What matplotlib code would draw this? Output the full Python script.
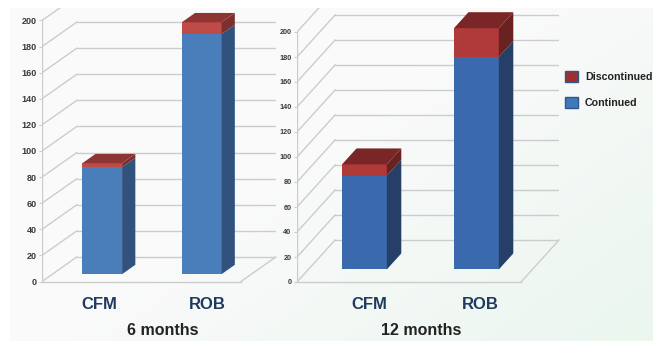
import numpy as np
import matplotlib.pyplot as plt
from matplotlib.patches import Polygon, Patch

categorias = ["CFM", "ROB"]
ticks = [0, 20, 40, 60, 80, 100, 120, 140, 160, 180, 200]

continued_6 = [82, 184]
discontinued_6 = [3, 9]
continued_12 = [75, 170]
discontinued_12 = [9, 23]

W, H = 653, 343
plt.rcParams['font.family'] = ['Liberation Sans', 'DejaVu Sans']

fig = plt.figure(figsize=(W / 100, H / 100), dpi=100, facecolor='white')

# Fondo claro con un tono verde hacia la esquina inferior derecha
fondo = fig.add_axes([10 / W, 2 / H, (W - 10) / W, (H - 10) / H])
xx, yy = np.meshgrid(np.linspace(0, 1, 200), np.linspace(1, 0, 120))
t = np.clip((xx * 0.75 + (1 - yy) * 0.55 - 0.55) / 0.7, 0, 1)[..., None]
fondo.imshow(np.array([0.982, 0.982, 0.982]) * (1 - t) + np.array([0.925, 0.965, 0.94]) * t,
             aspect='auto', interpolation='bilinear')
fondo.axis('off')


def panel(x0, y0, px_cat, px_val, dx, dy, cont, disc, col, fs_tick, pos_label, x_titulo, titulo):
    ancho = (2 + dx) * px_cat
    alto = y0 - 8
    ax = fig.add_axes([x0 / W, (H - y0) / H, ancho / W, alto / H])
    ax.patch.set_alpha(0)
    ax.set_xlim(-0.5, 1.5 + dx)
    ax.set_ylim(0, alto / px_val)
    for s in ax.spines.values():
        s.set_visible(False)

    # Paredes y piso del grafico en perspectiva
    gris = '#cbcdcd'
    for v in ticks:
        ax.plot([-0.5, -0.5 + dx], [v, v + dy], color=gris, lw=1.0, zorder=1)
        ax.plot([-0.5 + dx, 1.5 + dx], [v + dy, v + dy], color=gris, lw=1.0, zorder=1)
    ax.plot([-0.5, 1.5], [0, 0], color=gris, lw=1.0, zorder=1, clip_on=False)
    ax.plot([1.5, 1.5 + dx], [0, dy], color=gris, lw=1.0, zorder=1, clip_on=False)
    ax.plot([-0.5, -0.5], [0, 200], color=gris, lw=1.0, zorder=1)

    # Barras apiladas: frente, tapa y lateral
    d0, d1 = 0.3, 0.3 + 0.38
    w = 0.2
    for i in range(2):
        xa = i - w + d0 * dx
        xb = i + w + d0 * dx
        sx = (d1 - d0) * dx
        sy = (d1 - d0) * dy
        base = d0 * dy
        tramos = [(0, cont[i], col['azul'], col['azul_l']),
                  (cont[i], cont[i] + disc[i], col['rojo'], col['rojo_l'])]
        for a, b, frente, lado in tramos:
            ax.add_patch(Polygon([(xa, base + a), (xb, base + a), (xb, base + b), (xa, base + b)],
                                 fc=frente, ec='none', zorder=3))
            ax.add_patch(Polygon([(xb, base + a), (xb + sx, base + a + sy), (xb + sx, base + b + sy), (xb, base + b)],
                                 fc=lado, ec='none', zorder=3))
        tope = cont[i] + disc[i]
        ax.add_patch(Polygon([(xa, base + tope), (xb, base + tope), (xb + sx, base + tope + sy), (xa + sx, base + tope + sy)],
                             fc=col['rojo_t'], ec='none', zorder=3))

    ax.set_yticks(ticks)
    ax.set_yticklabels(ticks, fontsize=fs_tick, color='#3a3a3a', fontweight='bold')
    ax.tick_params(axis='y', length=2.5, width=0.8, color=gris, pad=1.5)
    ax.set_xticks(pos_label)
    ax.set_xticklabels(categorias, fontsize=12, fontweight='bold', color='#1f3a5f')
    ax.tick_params(axis='x', length=0, pad=11)
    fig.text(x_titulo / W, 1 - 330.5 / H, titulo, fontsize=11.5, fontweight='bold', color='#222222',
             ha='center', va='center')


colores_6 = {'azul': '#4a7ebb', 'azul_l': '#30527c', 'rojo': '#be4b48', 'rojo_l': '#7d2f2d', 'rojo_t': '#8e3533'}
colores_12 = {'azul': '#3b69ad', 'azul_l': '#253f68', 'rojo': '#b03a3a', 'rojo_l': '#692121', 'rojo_t': '#7a2626'}

panel(42, 281.5, 99.5, 1.305, 0.35, 18.8, continued_6, discontinued_6, colores_6, 6.5,
      [0.08, 1.166], 163, "6 months")
panel(297, 282, 112, 1.25, 0.34, 33.6, continued_12, discontinued_12, colores_12, 5.2,
      [0.143, 1.134], 421, "12 months")

# Leyenda a la derecha
manejadores = [Patch(fc='#9c2f30', ec='#34548a', lw=1, label='Discontinued'),
               Patch(fc='#3f78bd', ec='#34548a', lw=1, label='Continued')]
fig.legend(handles=manejadores, loc='upper left', bbox_to_anchor=(562 / W, 1 - 68 / H), frameon=False,
           handlelength=1.2, handleheight=1.2, handletextpad=0.65, labelspacing=1.35,
           borderaxespad=0, borderpad=0.3,
           prop={'size': 7.7, 'weight': 'bold'}, labelcolor='#222222')

fig.savefig('out.png', dpi=100)
